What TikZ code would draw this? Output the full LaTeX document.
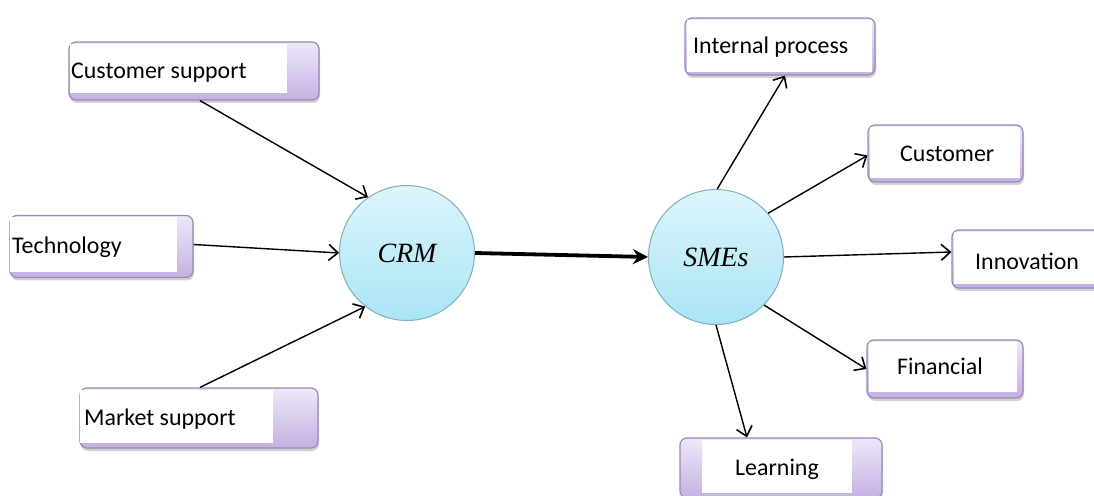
\documentclass[tikz,border=0pt]{standalone}
\usepackage{fontspec}
\setmainfont{Carlito}
\newfontfamily\serifit{Liberation Serif}
\usetikzlibrary{arrows.meta,shadows}
\begin{document}
\begin{tikzpicture}[x=1bp,y=-1bp,
  box/.style={draw=boxline, line width=1.2bp, rounded corners=7bp, top color=boxtop, bottom color=boxbot,
    drop shadow={shadow xshift=1bp, shadow yshift=-3bp, opacity=0.35}, inner sep=0pt},
  lbl/.style={font=\fontsize{24}{28}\selectfont, anchor=base west, inner sep=0pt},
  circ/.style={circle, draw=circline, line width=1bp, top color=circtop, bottom color=circbot, inner sep=0pt, minimum size=135bp,
    font=\serifit\itshape\fontsize{28}{32}\selectfont},
  arr/.style={line width=1.4bp, -{Straight Barb[length=9bp,width=16bp,line width=1.6bp]}},
]
\definecolor{boxline}{HTML}{9A88B4}
\definecolor{boxtop}{HTML}{EEE8F8}
\definecolor{boxbot}{HTML}{C4B0E2}
\definecolor{circline}{HTML}{7FAFBE}
\definecolor{circtop}{HTML}{DDF5FC}
\definecolor{circbot}{HTML}{A9E5F5}
\useasboundingbox (0,0) rectangle (1094,496);
\fill[white] (0,0) rectangle (1094,496);

% left boxes
\node[box, minimum width=250bp, minimum height=58bp] (cs) at (194,71) {};
\fill[white] (70,44) rectangle (287,93);
\node[lbl] (cst) at (71,79) {Customer support};

\node[box, minimum width=183bp, minimum height=62bp] (te) at (101.5,246.5) {};
\fill[white] (10,217) rectangle (177,272);
\node[lbl] (tet) at (12,254) {Technology};

\node[box, minimum width=238bp, minimum height=60bp] (ms) at (199,418) {};
\fill[white] (80,390) rectangle (273,443);
\node[lbl] (mst) at (84,425) {Market support};

% right boxes
\node[box, minimum width=190bp, minimum height=57bp] (ip) at (780,46.5) {};
\fill[white] (687,20) rectangle (872,72);
\node[lbl] (ipt) at (693,54) {Internal process};

\node[box, minimum width=155bp, minimum height=57bp] (cu) at (945.5,153.5) {};
\fill[white] (870,127) rectangle (1020,178);
\node[lbl] (cut) at (900,162) {Customer};

\node[box, minimum width=160bp, minimum height=58bp] (in) at (1032,259) {};
\fill[white] (954,232) rectangle (1094,284);
\node[lbl] (int) at (975,270) {Innovation};

\node[box, minimum width=156bp, minimum height=58bp] (fi) at (945,369) {};
\fill[white] (869,342) rectangle (1017,392);
\node[lbl] (fit) at (897,375) {Financial};

\node[box, minimum width=202bp, minimum height=60bp] (le) at (781,468) {};
\fill[white] (702,440) rectangle (852,493);
\node[lbl] (let) at (735,475) {Learning};

% circles
\node[circ] (crm) at (407,253) {CRM};
\node[circ] (sme) at (716,257) {SMEs};

% connectors
\draw[arr] ([xshift=6bp]cs.south) -- (crm.125);
\draw[arr] ([yshift=2bp]te.east) -- (crm.180);
\draw[arr] ([xshift=1bp]ms.north) -- (crm.232);
\draw[line width=3.8bp, -{Stealth[length=15bp,width=15bp]}] (crm.east) -- (sme.west);
\draw[arr] (sme.89) -- ([xshift=5bp]ip.south);
\draw[arr] (sme.40) -- ([yshift=-2bp]cu.west);
\draw[arr] (sme.0) -- ([yshift=7bp]in.west);
\draw[arr] (sme.-45) -- (fi.west);
\draw[arr] (sme.-90) -- ([xshift=-34bp]le.north);
\end{tikzpicture}
\end{document}
